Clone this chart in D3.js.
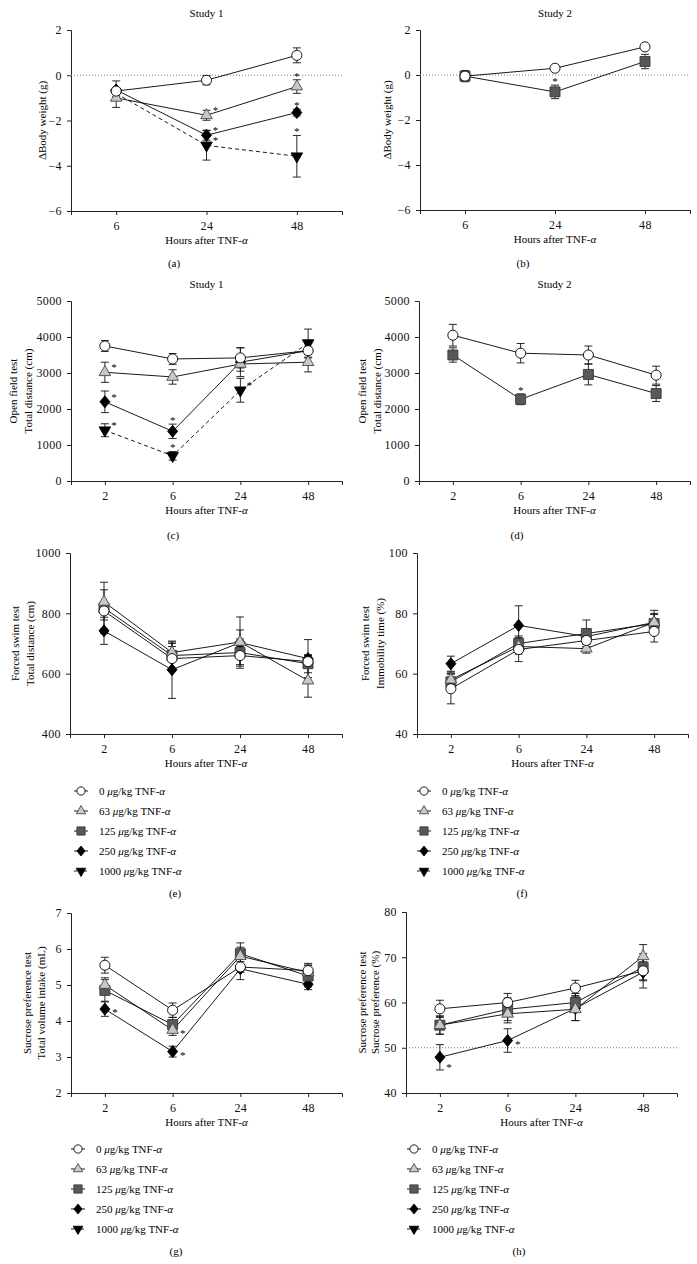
<!DOCTYPE html>
<html>
<head>
<meta charset="utf-8">
<script src="https://cdn.jsdelivr.net/npm/d3@7"></script>
<style>
  body { margin: 0; background: #fff; }
  svg { font-family: "Liberation Serif", "DejaVu Serif", serif; }
</style>
</head>
<body>
<svg id="fig" width="697" height="1264"></svg>
<script>
// categories
var hours3 = ["6", "24", "48"];
var hours4 = ["2", "6", "24", "48"];
var doses = ["0", "63", "125", "250", "1000"];

// (a) body weight, study 1 : means, sem, significance
var a_0 = [-0.70, -0.22, 0.88],   a_0_sem = [0.15, 0.2, 0.33],   a_0_sig = ["", "", ""];
var a_63 = [-1.0, -1.77, -0.5],   a_63_sem = [0.42, 0.22, 0.3],  a_63_sig = ["", "ru", "t"];
var a_250 = [-0.65, -2.65, -1.65], a_250_sem = [0.4, 0.22, 0.15], a_250_sig = ["", "ru", "t"];
var a_1000 = [-0.8, -3.1, -3.58], a_1000_sem = [0.15, 0.65, 0.92], a_1000_sig = ["", "ru", "t"];

// (b) body weight, study 2
var b_0 = [-0.05, 0.3, 1.25],     b_0_sem = [0.1, 0.08, 0.08],   b_0_sig = ["", "", ""];
var b_125 = [-0.05, -0.75, 0.6],  b_125_sem = [0.25, 0.3, 0.32], b_125_sig = ["", "t", ""];

// (c) open field, study 1
var c_0 = [3750, 3390, 3420, 3620],   c_0_sem = [150, 150, 280, 100],   c_0_sig = ["", "", "", ""];
var c_63 = [3020, 2890, 3250, 3300],  c_63_sem = [280, 200, 200, 270],  c_63_sig = ["ru", "", "", ""];
var c_250 = [2200, 1380, 3300, 3620], c_250_sem = [300, 200, 400, 200], c_250_sig = ["ru", "t", "", ""];
var c_1000 = [1410, 700, 2520, 3830], c_1000_sem = [180, 120, 330, 390], c_1000_sig = ["ru", "t", "ru", ""];

// (d) open field, study 2
var d_0 = [4050, 3550, 3500, 2940],   d_0_sem = [300, 270, 250, 250],   d_0_sig = ["", "", "", ""];
var d_125 = [3500, 2270, 2960, 2430], d_125_sem = [200, 150, 290, 220], d_125_sig = ["", "t", "", ""];

// (e) forced swim, total distance
var e_0 = [808, 650, 660, 640],   e_0_sem = [30, 40, 30, 20];
var e_63 = [838, 670, 705, 577],  e_63_sem = [40, 30, 40, 55];
var e_125 = [818, 660, 670, 633], e_125_sem = [85, 45, 45, 30];
var e_250 = [742, 613, 703, 650], e_250_sem = [45, 95, 85, 63];

// (f) forced swim, immobility time
var f_0 = [55, 68, 71, 74],       f_0_sem = [5, 4, 2, 3.5];
var f_63 = [58, 69, 68.3, 77],    f_63_sem = [2.5, 2.5, 1.5, 3];
var f_125 = [57.3, 70, 73.3, 76.6], f_125_sem = [2.5, 2.5, 4.5, 3];
var f_250 = [63.3, 76, 72.3, 77], f_250_sem = [2.5, 6.5, 2.5, 4];

// (g) sucrose test, total volume
var g_0 = [5.55, 4.3, 5.5, 5.4],    g_0_sem = [0.22, 0.2, 0.15, 0.2];
var g_63 = [5.0, 3.75, 5.8, 5.35],  g_63_sem = [0.2, 0.15, 0.25, 0.2],  g_63_sig = ["", "r", "", ""];
var g_125 = [4.85, 3.9, 5.87, 5.25], g_125_sem = [0.3, 0.2, 0.3, 0.3];
var g_250 = [4.33, 3.15, 5.45, 5.02], g_250_sem = [0.2, 0.15, 0.3, 0.15], g_250_sig = ["r", "r", "", ""];

// (h) sucrose preference
var h_0 = [58.6, 60, 63.2, 67],     h_0_sem = [1.9, 2, 1.7, 2];
var h_63 = [55, 57.5, 58.5, 70.2],  h_63_sem = [2, 2, 2.5, 2.6];
var h_125 = [55, 58.5, 60, 67.8],   h_125_sem = [2, 2.5, 2, 3];
var h_250 = [47.9, 51.6, 58.7, 66.7], h_250_sem = [2.8, 2.6, 2.7, 3.5], h_250_sig = ["rd", "r", "", ""];

var svg = d3.select("#fig");

// marker look for each dose
var styles = {
  "0":    { shape: d3.symbolCircle,   size: 80,  fill: "#fff",    stroke: "#000", dash: null },
  "63":   { shape: d3.symbolTriangle, size: 58,  fill: "#c8c8c8", stroke: "#4a4a4a", dash: null },
  "125":  { shape: d3.symbolSquare,   size: 100, fill: "#585858", stroke: "#3a3a3a", dash: null },
  "250":  { shape: "diamond",         size: 0,   fill: "#000",    stroke: "#000", dash: null },
  "1000": { shape: "down",            size: 58,  fill: "#000",    stroke: "#000", dash: "4,3" }
};

function markerPath(dose) {
  var s = styles[dose];
  if (s.shape === "diamond") return "M0,-6L5,0L0,6L-5,0Z";
  if (s.shape === "down") return d3.symbol(d3.symbolTriangle, s.size)();
  return d3.symbol(s.shape, s.size)();
}

function drawMarker(g, dose, x, y, k) {
  var s = styles[dose];
  k = k || 1;
  var m = g.append("path")
    .attr("d", markerPath(dose))
    .attr("fill", s.fill).attr("stroke", s.stroke).attr("stroke-width", 0.9 / k);
  var tr = "translate(" + x + "," + y + ") scale(" + k + ")";
  if (s.shape === "down") tr += " rotate(180)";
  m.attr("transform", tr);
}

function alphaText(sel, before) {
  sel.append("tspan").text(before);
  sel.append("tspan").attr("font-style", "italic").text("\u03b1");
}

var fmt = d3.format("");

function panel(p) {
  var g = svg.append("g");
  var x = d3.scalePoint().domain(p.cats).range([p.x0, p.x1]).padding(0.5);
  var y = d3.scaleLinear().domain(p.dom).range([p.y1, p.y0]);

  var ax = g.append("g").attr("transform", "translate(0," + p.y1 + ")")
    .call(d3.axisBottom(x).tickSizeOuter(0).tickSize(4).tickPadding(6));
  var ay = g.append("g").attr("transform", "translate(" + p.x0 + ",0)")
    .call(d3.axisLeft(y).tickValues(p.ticks).tickFormat(fmt).tickSizeOuter(0).tickSize(4).tickPadding(5));
  [ax, ay].forEach(function(a) {
    a.selectAll("path,line").attr("stroke", "#222").attr("stroke-width", 1);
    a.selectAll("text").attr("font-family", "Liberation Serif").attr("font-size", 12)
      .attr("letter-spacing", 0.4).attr("fill", "#111");
  });

  if (p.ref !== undefined) {
    g.append("line")
      .attr("x1", p.x0).attr("x2", p.x1)
      .attr("y1", y(p.ref)).attr("y2", y(p.ref))
      .attr("stroke", "#777").attr("stroke-width", 1).attr("stroke-dasharray", "1,2");
  }

  // titles
  if (p.title) {
    g.append("text").attr("x", (p.x0 + p.x1) / 2).attr("y", p.y0 - 13)
      .attr("text-anchor", "middle").attr("font-size", 11).text(p.title);
  }
  var xt = g.append("text").attr("x", (p.x0 + p.x1) / 2).attr("y", p.y1 + 33)
    .attr("text-anchor", "middle").attr("font-size", 11);
  alphaText(xt, "Hours after TNF-");

  p.ylab.forEach(function(l, i) {
    g.append("text")
      .attr("transform", "translate(" + p.ylx[i] + "," + ((p.y0 + p.y1) / 2) + ") rotate(-90)")
      .attr("text-anchor", "middle").attr("dy", "0.35em").attr("font-size", 11).text(l);
  });

  g.append("text").attr("x", p.tagX).attr("y", p.tagY)
    .attr("text-anchor", "middle").attr("font-size", 11).text(p.tag);

  var line = d3.line().x(function(d, i) { return x(p.cats[i]); }).y(function(d) { return y(d); });

  // lines
  p.series.forEach(function(s) {
    g.append("path").datum(s.mean).attr("d", line)
      .attr("fill", "none").attr("stroke", "#000").attr("stroke-width", 0.9)
      .attr("stroke-dasharray", styles[s.dose].dash);
  });
  // error bars
  p.series.forEach(function(s) {
    s.mean.forEach(function(m, i) {
      var cx = x(p.cats[i]), hi = y(m + s.sem[i]), lo = y(m - s.sem[i]);
      var eb = g.append("g").attr("stroke", "#111").attr("stroke-width", 0.9);
      eb.append("line").attr("x1", cx).attr("x2", cx).attr("y1", hi).attr("y2", lo);
      eb.append("line").attr("x1", cx - 4).attr("x2", cx + 4).attr("y1", hi).attr("y2", hi);
      eb.append("line").attr("x1", cx - 4).attr("x2", cx + 4).attr("y1", lo).attr("y2", lo);
    });
  });
  // markers and stars
  p.series.slice().reverse().forEach(function(s) {
    s.mean.forEach(function(m, i) {
      drawMarker(g, s.dose, x(p.cats[i]), y(m));
    });
  });
  p.series.forEach(function(s) {
    if (!s.sig) return;
    s.sig.forEach(function(code, i) {
      if (!code) return;
      var cx = x(p.cats[i]), cy = y(s.mean[i]), sx, sy;
      if (code === "t") { sx = cx; sy = y(s.mean[i] + s.sem[i]) - 6; }
      else if (code === "ru") { sx = cx + 9; sy = cy - 7; }
      else if (code === "rd") { sx = cx + 9; sy = cy + 8; }
      else { sx = cx + 10; sy = cy + 1; }
      g.append("text").attr("x", sx).attr("y", sy + 6).attr("fill", "#000")
        .attr("text-anchor", "middle").attr("font-size", 11).text("*");
    });
  });
}

function legend(lx, ly) {
  var g = svg.append("g");
  doses.forEach(function(d, i) {
    var yy = ly + i * 20;
    g.append("line").attr("x1", lx).attr("x2", lx + 14).attr("y1", yy).attr("y2", yy)
      .attr("stroke", "#000").attr("stroke-width", 0.9).attr("stroke-dasharray", styles[d].dash ? "3,2" : null);
    drawMarker(g, d, lx + 7, yy, 0.82);
    var t = g.append("text").attr("x", lx + 25).attr("y", yy + 4).attr("font-size", 11);
    t.append("tspan").text(d + " ");
    t.append("tspan").attr("font-style", "italic").text("\u03bc");
    t.append("tspan").text("g/kg TNF-");
    t.append("tspan").attr("font-style", "italic").text("\u03b1");
  });
}

function S(dose, mean, sem, sig) { return { dose: dose, mean: mean, sem: sem, sig: sig }; }

panel({ cats: hours3, x0: 71, x1: 342, y0: 30, y1: 211, dom: [-6, 2], ticks: [-6, -4, -2, 0, 2], ref: 0,
  title: "Study 1", ylab: ["\u0394Body weight (g)"], ylx: [42], tag: "(a)", tagX: 174, tagY: 267,
  series: [S("0", a_0, a_0_sem, a_0_sig), S("63", a_63, a_63_sem, a_63_sig),
           S("250", a_250, a_250_sem, a_250_sig), S("1000", a_1000, a_1000_sem, a_1000_sig)] });

panel({ cats: hours3, x0: 420, x1: 690, y0: 30, y1: 210, dom: [-6, 2], ticks: [-6, -4, -2, 0, 2], ref: 0,
  title: "Study 2", ylab: ["\u0394Body weight (g)"], ylx: [387], tag: "(b)", tagX: 523, tagY: 267,
  series: [S("0", b_0, b_0_sem, b_0_sig), S("125", b_125, b_125_sem, b_125_sig)] });

panel({ cats: hours4, x0: 71, x1: 342, y0: 301, y1: 481, dom: [0, 5000], ticks: [0, 1000, 2000, 3000, 4000, 5000],
  title: "Study 1", ylab: ["Open field test", "Total distance (cm)"], ylx: [13, 28], tag: "(c)", tagX: 173, tagY: 539,
  series: [S("0", c_0, c_0_sem, c_0_sig), S("63", c_63, c_63_sem, c_63_sig),
           S("250", c_250, c_250_sem, c_250_sig), S("1000", c_1000, c_1000_sem, c_1000_sig)] });

panel({ cats: hours4, x0: 419, x1: 690, y0: 301, y1: 481, dom: [0, 5000], ticks: [0, 1000, 2000, 3000, 4000, 5000],
  title: "Study 2", ylab: ["Open field test", "Total distance (cm)"], ylx: [362, 377], tag: "(d)", tagX: 517, tagY: 539,
  series: [S("0", d_0, d_0_sem, d_0_sig), S("125", d_125, d_125_sem, d_125_sig)] });

panel({ cats: hours4, x0: 70, x1: 342, y0: 553, y1: 734, dom: [400, 1000], ticks: [400, 600, 800, 1000],
  ylab: ["Forced swim test", "Total distance (cm)"], ylx: [15, 30], tag: "(e)", tagX: 175, tagY: 897,
  series: [S("0", e_0, e_0_sem), S("63", e_63, e_63_sem), S("125", e_125, e_125_sem), S("250", e_250, e_250_sem)] });

panel({ cats: hours4, x0: 417, x1: 688, y0: 553, y1: 734, dom: [40, 100], ticks: [40, 60, 80, 100],
  ylab: ["Forced swim test", "Immobility time (%)"], ylx: [365, 380], tag: "(f)", tagX: 522, tagY: 897,
  series: [S("0", f_0, f_0_sem), S("63", f_63, f_63_sem), S("125", f_125, f_125_sem), S("250", f_250, f_250_sem)] });

panel({ cats: hours4, x0: 71, x1: 342, y0: 913, y1: 1093, dom: [2, 7], ticks: [2, 3, 4, 5, 6, 7],
  ylab: ["Sucrose preference test", "Total volume intake (mL)"], ylx: [27, 41], tag: "(g)", tagX: 176, tagY: 1255,
  series: [S("0", g_0, g_0_sem), S("63", g_63, g_63_sem, g_63_sig), S("125", g_125, g_125_sem), S("250", g_250, g_250_sem, g_250_sig)] });

panel({ cats: hours4, x0: 406, x1: 677, y0: 912, y1: 1093, dom: [40, 80], ticks: [40, 50, 60, 70, 80], ref: 50,
  ylab: ["Sucrose preference test", "Sucrose preference (%)"], ylx: [362, 375], tag: "(h)", tagX: 519, tagY: 1255,
  series: [S("0", h_0, h_0_sem), S("63", h_63, h_63_sem), S("125", h_125, h_125_sem), S("250", h_250, h_250_sem, h_250_sig)] });

legend(74, 791);
legend(417, 791);
legend(71, 1149);
legend(407, 1149);
</script>
</body>
</html>
